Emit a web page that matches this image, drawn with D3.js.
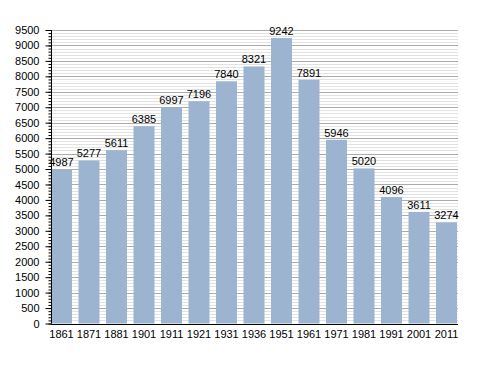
<!DOCTYPE html>
<html>
<head>
<meta charset="utf-8">
<script src="https://cdn.jsdelivr.net/npm/d3@7"></script>
<style>
  body { margin: 0; background: #fff; }
  svg { display: block; font-family: "Liberation Sans", Arial, sans-serif; }
</style>
</head>
<body>
<script>
// Census years and population
const years = ["1861", "1871", "1881", "1901", "1911", "1921", "1931", "1936", "1951", "1961", "1971", "1981", "1991", "2001", "2011"];
const population = [4987, 5277, 5611, 6385, 6997, 7196, 7840, 8321, 9242, 7891, 5946, 5020, 4096, 3611, 3274];
const yMax = 9500;

const width = 488, height = 373;
const plotLeft = 51, plotRight = 458, plotTop = 30, plotBottom = 323.5;

const svg = d3.select("body").append("svg")
    .attr("width", width)
    .attr("height", height);

const x = d3.scaleBand()
    .domain(years)
    .range([plotLeft, 457])
    .paddingInner(0.236)
    .paddingOuter(0);

const y = d3.scaleLinear()
    .domain([0, yMax])
    .range([plotBottom, plotTop]);

// minor grid every 100
svg.append("g")
  .selectAll("line")
  .data(d3.range(100, yMax + 1, 100).filter(v => v % 500 !== 0))
  .join("line")
    .attr("x1", plotLeft).attr("x2", plotRight)
    .attr("y1", d => Math.round(y(d)) + 0.5)
    .attr("y2", d => Math.round(y(d)) + 0.5)
    .attr("stroke", "#e2e2e2");

// major grid every 500
svg.append("g")
  .selectAll("line")
  .data(d3.range(500, yMax + 1, 500))
  .join("line")
    .attr("x1", plotLeft).attr("x2", plotRight)
    .attr("y1", d => Math.round(y(d)) + 0.5)
    .attr("y2", d => Math.round(y(d)) + 0.5)
    .attr("stroke", "#ababab");

// bars
svg.append("g")
  .selectAll("rect")
  .data(years.map((yr, i) => ({ yr, v: population[i] })))
  .join("rect")
    .attr("x", d => x(d.yr))
    .attr("y", d => y(d.v))
    .attr("width", x.bandwidth())
    .attr("height", d => y(0) - y(d.v))
    .attr("fill", "#9cb4cf");

// value labels
svg.append("g")
    .attr("text-anchor", "middle")
    .style("font-size", "11px")
  .selectAll("text")
  .data(years.map((yr, i) => ({ yr, v: population[i] })))
  .join("text")
    .attr("x", d => x(d.yr) + x.bandwidth() / 2)
    .attr("y", d => y(d.v) - 3)
    .text(d => d.v);

// y axis with major and minor ticks
const yAxisMinor = d3.axisLeft(y)
    .tickValues(d3.range(0, yMax + 1, 100))
    .tickSize(3)
    .tickFormat("");
svg.append("g")
    .attr("transform", `translate(${plotLeft + 0.5},0)`)
    .call(yAxisMinor)
    .call(g => g.select(".domain").remove());

const yAxis = d3.axisLeft(y)
    .tickValues(d3.range(0, yMax + 1, 500))
    .tickSize(6)
    .tickPadding(6)
    .tickFormat(d3.format("d"));
svg.append("g")
    .attr("transform", `translate(${plotLeft + 0.5},0)`)
    .call(yAxis)
    .call(g => g.select(".domain").attr("d", `M0,${plotTop}V${plotBottom}`))
    .call(g => g.selectAll("text").style("font-size", "11px").attr("fill", "#000"));

// x axis
const xAxis = d3.axisBottom(x).tickSize(0).tickPadding(6);
svg.append("g")
    .attr("transform", `translate(0,${Math.round(plotBottom) + 0.5})`)
    .call(xAxis)
    .call(g => g.select(".domain").attr("d", `M${plotLeft},0H${plotRight}`))
    .call(g => g.selectAll("text").style("font-size", "11px").attr("fill", "#000"));
</script>
</body>
</html>
